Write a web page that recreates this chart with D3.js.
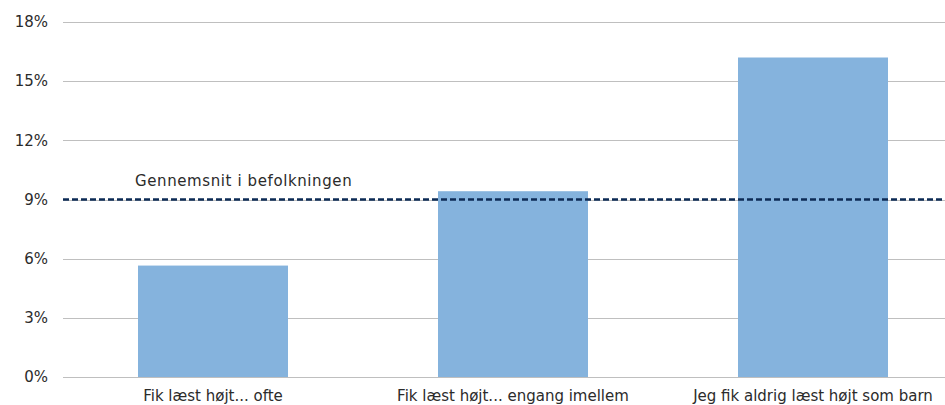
<!DOCTYPE html>
<html>
<head>
<meta charset="utf-8">
<script src="https://cdn.jsdelivr.net/npm/d3@7"></script>
<style>
  body { margin: 0; background: #fff; }
  svg text { font-family: "DejaVu Sans", sans-serif; fill: #2b2b2b; }
</style>
</head>
<body>
<div id="chart"></div>
<script>
// Kategorier og værdier (andel i %)
const categories = ["Fik læst højt... ofte", "Fik læst højt... engang imellem", "Jeg fik aldrig læst højt som barn"];
const values = [5.65, 9.42, 16.2];
const yTicks = [0, 3, 6, 9, 12, 15, 18];
const averageValue = 9.0;
const averageLabel = "Gennemsnit i befolkningen";

const width = 945;
const height = 405;
const margin = { top: 22, right: -18, bottom: 28, left: 63 };

const svg = d3.select('#chart')
    .append('svg')
    .attr('width', width)
    .attr('height', height);

// Skalaer
const x = d3.scaleBand()
    .domain(categories)
    .range([margin.left, width - margin.right])
    .paddingInner(0.5)
    .paddingOuter(0.25);

const y = d3.scaleLinear()
    .domain([0, 18])
    .range([height - margin.bottom, margin.top]);

// Gitterlinjer
svg.append('g')
    .selectAll('line')
    .data(yTicks)
    .enter()
    .append('line')
    .attr('x1', margin.left)
    .attr('x2', width)
    .attr('y1', d => Math.round(y(d)) + 0.5)
    .attr('y2', d => Math.round(y(d)) + 0.5)
    .attr('stroke', '#bfbfbf')
    .attr('stroke-width', 1);

// Y-akse etiketter
svg.append('g')
    .selectAll('text')
    .data(yTicks)
    .enter()
    .append('text')
    .attr('x', 48)
    .attr('y', d => y(d))
    .attr('dy', '0.35em')
    .attr('text-anchor', 'end')
    .style('font-size', '15px')
    .text(d => d + '%');

// Søjler
svg.append('g')
    .selectAll('rect')
    .data(values)
    .enter()
    .append('rect')
    .attr('x', (d, i) => x(categories[i]))
    .attr('width', x.bandwidth())
    .attr('y', d => y(d))
    .attr('height', d => y(0) - y(d))
    .attr('fill', '#85b3dd');

// Kategori etiketter
svg.append('g')
    .selectAll('text')
    .data(categories)
    .enter()
    .append('text')
    .attr('x', d => x(d) + x.bandwidth() / 2)
    .attr('y', height - 4)
    .attr('text-anchor', 'middle')
    .style('font-size', '15px')
    .text(d => d);

// Gennemsnitslinje
svg.append('line')
    .attr('x1', margin.left)
    .attr('x2', width)
    .attr('y1', y(averageValue))
    .attr('y2', y(averageValue))
    .attr('stroke', '#0d2b55')
    .attr('stroke-width', 2.5)
    .attr('stroke-dasharray', '6,3');

svg.append('text')
    .attr('x', 135)
    .attr('y', y(averageValue) - 14)
    .style('font-size', '15px')
    .style('letter-spacing', '0.6px')
    .text(averageLabel);
</script>
</body>
</html>
